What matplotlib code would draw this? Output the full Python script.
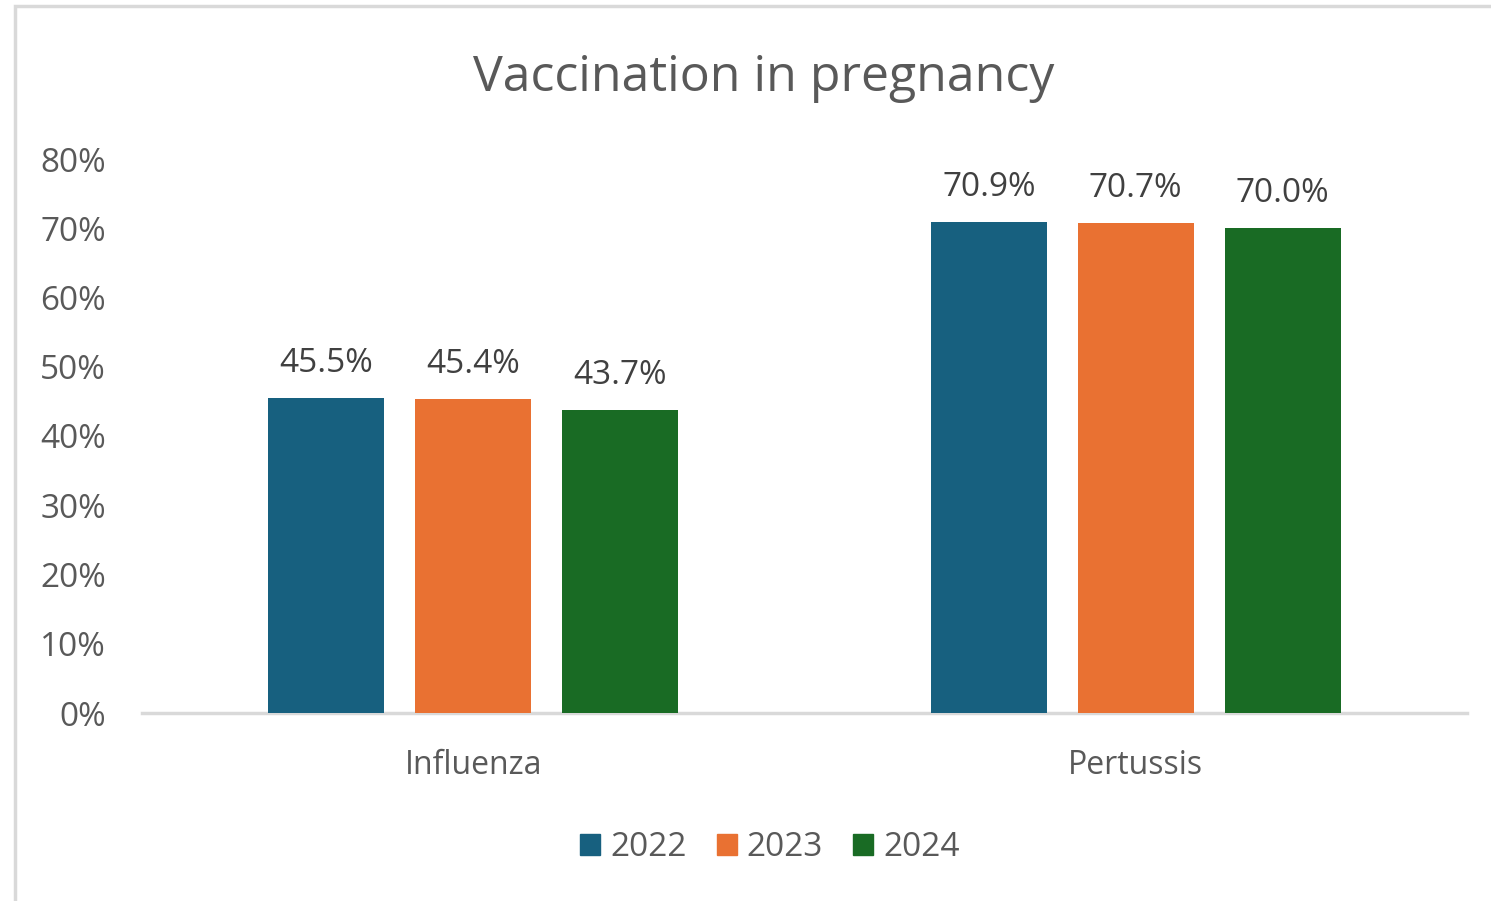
import matplotlib
matplotlib.use("Agg")
import matplotlib.pyplot as plt
import numpy as np
from matplotlib.patches import Rectangle

plt.rcParams['font.family'] = ['Open Sans', 'DejaVu Sans']

categories = ["Influenza", "Pertussis"]
years = ["2022", "2023", "2024"]
values = {
    "2022": [45.5, 70.9],
    "2023": [45.4, 70.7],
    "2024": [43.7, 70.0],
}
colors = ["#17607F", "#E97132", "#196B24"]
yticks = [0, 10, 20, 30, 40, 50, 60, 70, 80]

W, H = 1491, 901
fig = plt.figure(figsize=(W / 100, H / 100), dpi=100)
text_color = "#595959"

# outer chart frame
fig.add_artist(Rectangle((14.5 / W, -0.05), 1.2, 1.05 - 6 / H, transform=fig.transFigure,
                         fill=False, edgecolor="#D9D9D9", linewidth=2.5))

ax = fig.add_axes([142 / W, (H - 713) / H, (1467 - 142) / W, (713 - 159) / H])
ax.set_xlim(0, 2)
ax.set_ylim(0, 80)

centers = np.array([0.5, 1.5])
step = 147 / 662.5
bw = 116 / 662.5
for i, (yr, c) in enumerate(zip(years, colors)):
    xs = centers + (i - 1) * step
    ax.bar(xs, values[yr], width=bw, color=c, zorder=3)
    for x, v in zip(xs, values[yr]):
        ax.text(x, v + 3.75, f"{v:.1f}%", ha="center", va="baseline",
                fontsize=24, color="#404040")

for s in ["top", "right", "left"]:
    ax.spines[s].set_visible(False)
ax.spines["bottom"].set_color("#D9D9D9")
ax.spines["bottom"].set_linewidth(2.5)

ax.set_yticks(yticks)
ax.set_yticklabels([f"{t}%" for t in yticks], fontsize=24, color=text_color)
ax.tick_params(axis="y", length=0, pad=26)
ax.set_xticks(centers)
ax.set_xticklabels(categories, fontsize=23, color=text_color)
ax.tick_params(axis="x", length=0, pad=26)

fig.text(764 / W, 1 - 78 / H, "Vaccination in pregnancy", ha="center", va="center",
         fontsize=36, color=text_color)

handles = [Rectangle((0, 0), 1, 1, color=c) for c in colors]
fig.legend(handles, years, loc="center", bbox_to_anchor=(770 / W, 1 - 848 / H),
           ncol=3, frameon=False, fontsize=24, labelcolor=text_color,
           handlelength=0.6, handleheight=0.6, handletextpad=0.3, columnspacing=0.9)

fig.savefig("out.png", dpi=100)
